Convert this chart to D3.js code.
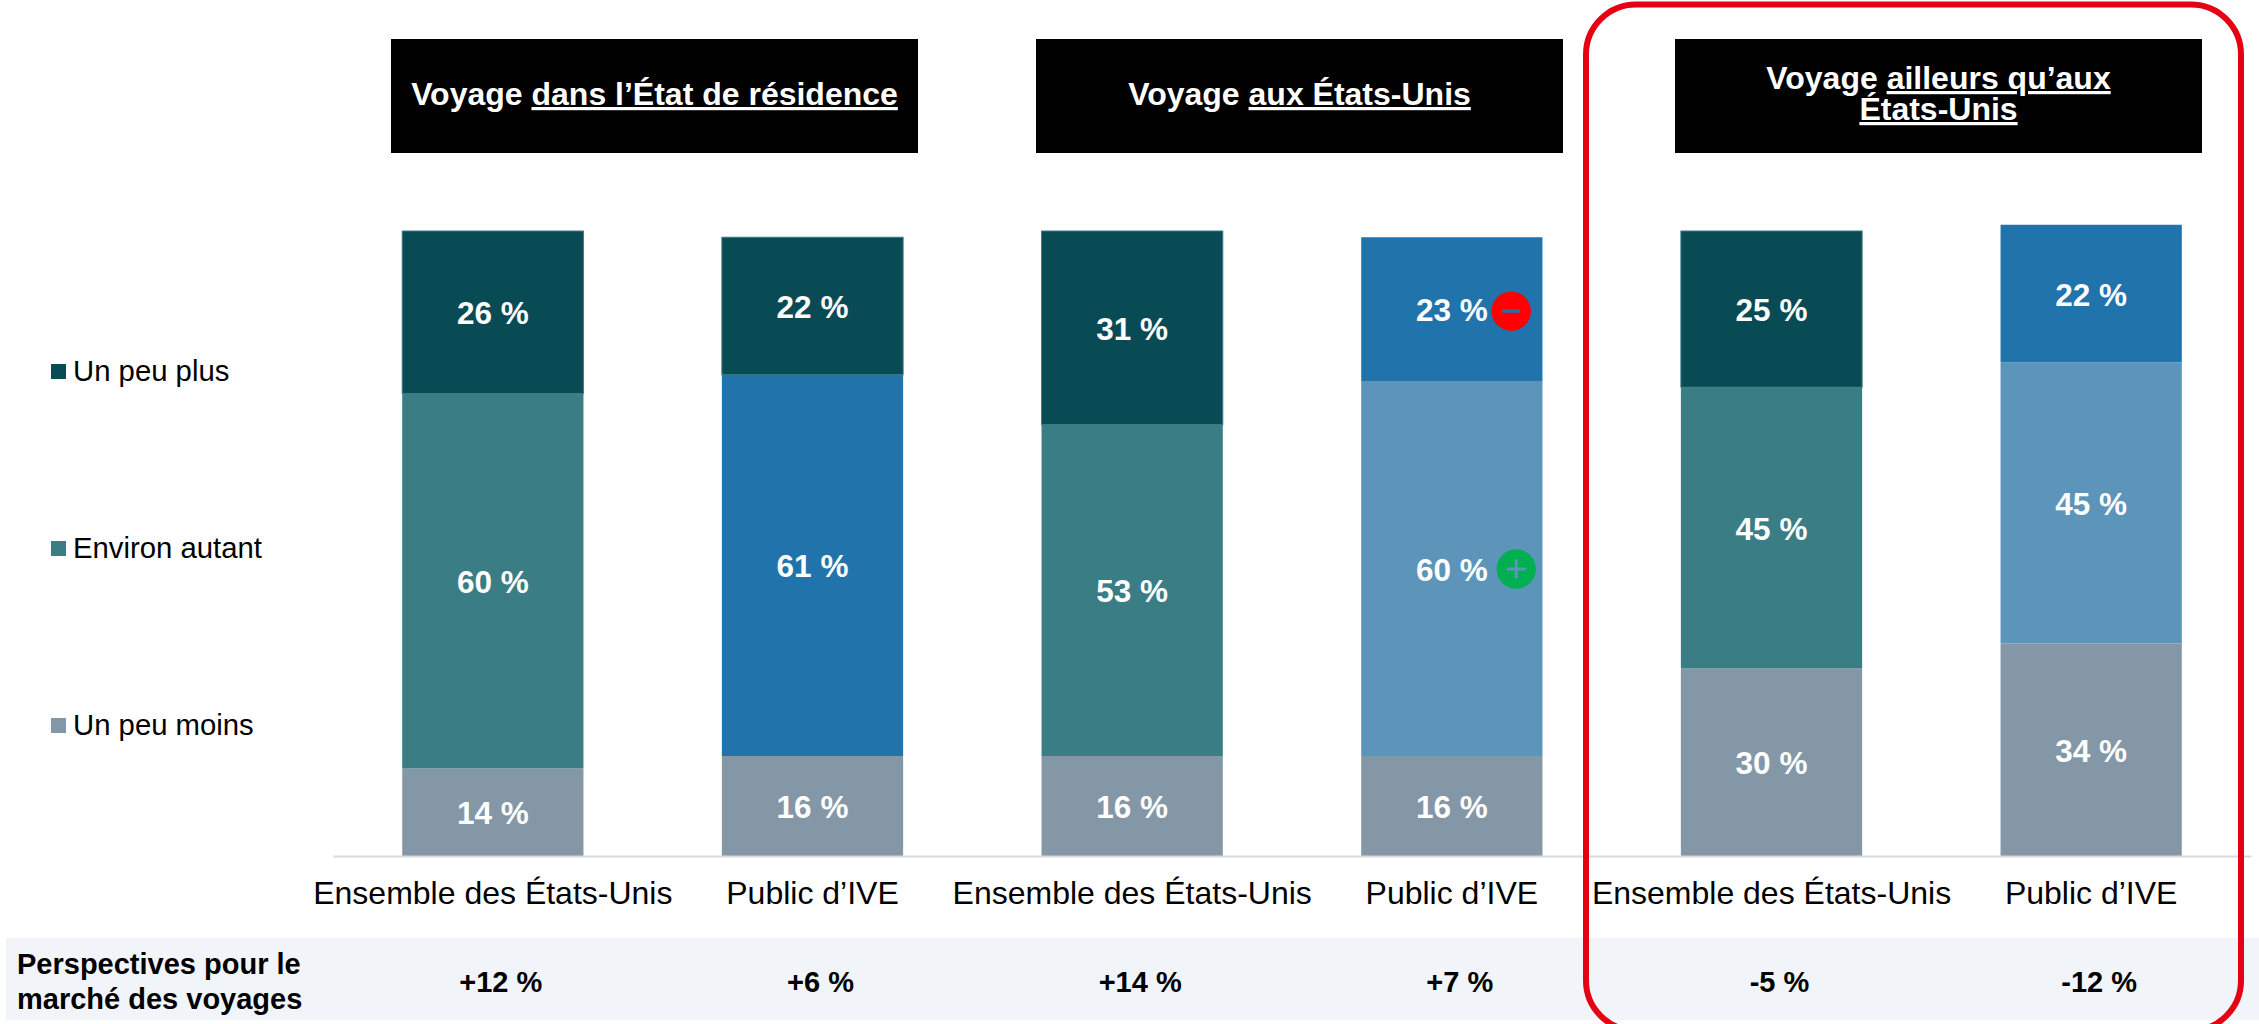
<!DOCTYPE html>
<html lang="fr">
<head>
<meta charset="utf-8">
<title>Perspectives pour le marché des voyages</title>
<script src="https://cdn.jsdelivr.net/npm/d3@7"></script>
<style>
    html, body { margin: 0; padding: 0; background: #fff; overflow: hidden; }
    svg { display: block; }
    text { font-family: "Liberation Sans", Arial, sans-serif; }
</style>
</head>
<body>
<div id="chart"></div>
<script>
// Data
const categories = ["Ensemble des États-Unis", "Public d’IVE", "Ensemble des États-Unis", "Public d’IVE", "Ensemble des États-Unis", "Public d’IVE"];
const seriesNames = ["Un peu moins", "Environ autant", "Un peu plus"];
const peuMoins = [14, 16, 16, 16, 30, 34];
const environAutant = [60, 61, 53, 60, 45, 45];
const peuPlus = [26, 22, 31, 23, 25, 22];
const outlook = ["+12 %", "+6 %", "+14 %", "+7 %", "-5 %", "-12 %"];
const outlookLabel = ["Perspectives pour le", "marché des voyages"];
const headerTitles = [
    [["Voyage ", "dans l’État de résidence"]],
    [["Voyage ", "aux États-Unis"]],
    [["Voyage ", "ailleurs qu’aux"], ["", "États-Unis"]]
];
const legendColors = ["#8497A6", "#3A7D85", "#094B55"];
const moinsColors = ["#8497A6", "#8497A6", "#8497A6", "#8497A6", "#8497A6", "#8497A6"];
const autantColors = ["#3A7D85", "#2073AB", "#3A7D85", "#5C94BA", "#3A7D85", "#5C94BA"];
const plusColors = ["#094B55", "#094B55", "#094B55", "#2073AB", "#094B55", "#2073AB"];

var w = 2259;
var h = 1024;

var svg = d3.select("#chart")
    .append("svg")
    .attr("width", w)
    .attr("height", h);

// Scales
var xScale = d3.scaleBand()
    .domain(d3.range(categories.length))
    .range([333, 2251])
    .paddingInner(0.433)
    .paddingOuter(0.2165);

var yScale = d3.scaleLinear()
    .domain([0, 100])
    .range([856, 231]);

// Outlook band goes under everything else
svg.append("rect")
    .attr("x", 6)
    .attr("y", 938)
    .attr("width", w - 6)
    .attr("height", 82)
    .attr("fill", "#F1F4F8");

// Stacked bars
var rows = categories.map(function (c, i) {
    return { i: i, moins: peuMoins[i], autant: environAutant[i], plus: peuPlus[i] };
});
var stacked = d3.stack().keys(["moins", "autant", "plus"])(rows);
var colorLists = [moinsColors, autantColors, plusColors];

stacked.forEach(function (layer, s) {
    var g = svg.append("g").attr("class", "series-" + layer.key);

    g.selectAll("rect")
        .data(layer)
        .enter()
        .append("rect")
        .attr("x", function (d) { return xScale(d.data.i); })
        .attr("y", function (d) { return yScale(d[1]); })
        .attr("width", xScale.bandwidth())
        .attr("height", function (d) { return yScale(d[0]) - yScale(d[1]); })
        .attr("fill", function (d) { return colorLists[s][d.data.i]; })
        // the dark segments have a thin lighter edge in the original
        .attr("stroke", function (d) { return colorLists[s][d.data.i] === "#094B55" ? "#3A7D85" : "none"; })
        .attr("stroke-width", 1);

    g.selectAll("text")
        .data(layer)
        .enter()
        .append("text")
        .attr("x", function (d) { return xScale(d.data.i) + xScale.bandwidth() / 2; })
        .attr("y", function (d) { return yScale((d[0] + d[1]) / 2) + 12; })
        .attr("text-anchor", "middle")
        .attr("font-size", 31.5)
        .attr("font-weight", "bold")
        .attr("fill", "#fff")
        .text(function (d) { return (d[1] - d[0]) + " %"; });
});

// Category axis
var axis = svg.append("g")
    .attr("transform", "translate(0,856)")
    .call(d3.axisBottom(xScale)
        .tickSize(0)
        .tickPadding(25)
        .tickFormat(function (i) { return categories[i]; }));

axis.select(".domain")
    .attr("stroke", "#D9D9D9")
    .attr("stroke-width", 2);

axis.selectAll("text")
    .attr("font-size", 32)
    .attr("font-family", "Liberation Sans")
    .attr("fill", "#000");

// Badges on the fourth bar
var badgeBar = 3;
var minusX = xScale(badgeBar) + 150;
var minusY = yScale(peuMoins[badgeBar] + environAutant[badgeBar] + peuPlus[badgeBar] / 2) + 2;
svg.append("circle").attr("cx", minusX).attr("cy", minusY).attr("r", 19.7).attr("fill", "#FF0000");
svg.append("rect").attr("x", minusX - 9).attr("y", minusY - 1.7).attr("width", 18).attr("height", 3.4).attr("rx", 1).attr("fill", "#2073AB");

var plusX = xScale(badgeBar) + 155;
var plusY = yScale(peuMoins[badgeBar] + environAutant[badgeBar] / 2) + 0.5;
svg.append("circle").attr("cx", plusX).attr("cy", plusY).attr("r", 19.7).attr("fill", "#00B050");
svg.append("rect").attr("x", plusX - 9.5).attr("y", plusY - 1.5).attr("width", 19).attr("height", 3).attr("fill", "#5C94BA");
svg.append("rect").attr("x", plusX - 1.5).attr("y", plusY - 9.5).attr("width", 3).attr("height", 19).attr("fill", "#5C94BA");

// Black header boxes
var headerLeft = [391, 1036, 1675];
var headerWidth = 527;

headerTitles.forEach(function (lines, k) {
    var cx = headerLeft[k] + headerWidth / 2;

    svg.append("rect")
        .attr("x", headerLeft[k])
        .attr("y", 39)
        .attr("width", headerWidth)
        .attr("height", 114)
        .attr("fill", "#000");

    lines.forEach(function (line, n) {
        var baseline = lines.length === 1 ? 105 : 89 + n * 31;
        var t = svg.append("text")
            .attr("x", cx)
            .attr("y", baseline)
            .attr("text-anchor", "middle")
            .attr("font-size", 32)
            .attr("font-weight", "bold")
            .attr("fill", "#fff");
        t.append("tspan").style("white-space", "pre").text(line[0]);
        t.append("tspan").style("text-decoration", "underline").text(line[1]);
    });
});

// Legend
var legendY = [735, 558, 381];
seriesNames.forEach(function (name, s) {
    svg.append("rect")
        .attr("x", 51)
        .attr("y", legendY[s] - 17)
        .attr("width", 15)
        .attr("height", 15)
        .attr("fill", legendColors[s]);
    svg.append("text")
        .attr("x", 73)
        .attr("y", legendY[s])
        .attr("font-size", 29.3)
        .attr("fill", "#000")
        .text(name);
});

// Outlook row
outlookLabel.forEach(function (line, n) {
    svg.append("text")
        .attr("x", 17)
        .attr("y", 974 + n * 35)
        .attr("font-size", 29)
        .attr("font-weight", "bold")
        .attr("fill", "#000")
        .text(line);
});

svg.selectAll(".outlook")
    .data(outlook)
    .enter()
    .append("text")
    .attr("class", "outlook")
    .attr("x", function (d, i) { return xScale(i) + xScale.bandwidth() / 2 + 8; })
    .attr("y", 992)
    .attr("text-anchor", "middle")
    .attr("font-size", 29)
    .attr("font-weight", "bold")
    .attr("fill", "#000")
    .text(function (d) { return d; });

// Red frame around the last group, it runs off the bottom of the page
svg.append("rect")
    .attr("x", 1586)
    .attr("y", 4.5)
    .attr("width", 655)
    .attr("height", 1026)
    .attr("rx", 50)
    .attr("ry", 50)
    .attr("fill", "none")
    .attr("stroke", "#E60013")
    .attr("stroke-width", 6);
</script>
</body>
</html>
